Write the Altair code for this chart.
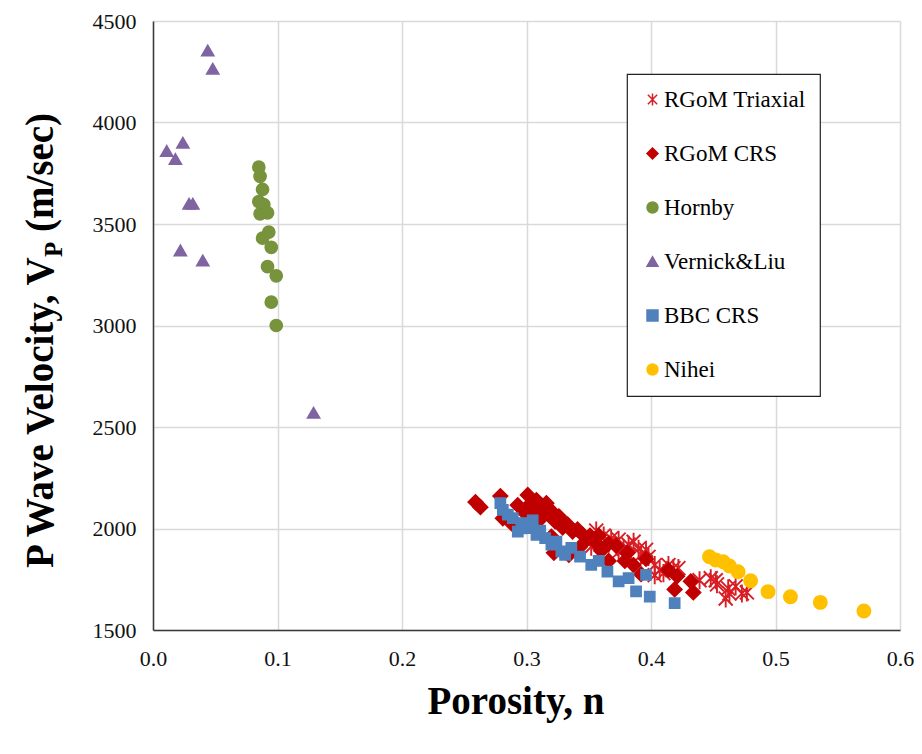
import altair as alt
import pandas as pd

# ---------------- data ----------------
series_names = ["RGoM Triaxial", "RGoM CRS", "Hornby", "Vernick&Liu", "BBC CRS", "Nihei"]
series_colors = ["#D81E24", "#C00000", "#77933C", "#8064A2", "#4F81BD", "#FFC000"]
asterisk_path = "M0,-1.1L0,1.1M-0.85,-0.85L0.85,0.85M-0.85,0.85L0.85,-0.85"
series_shapes = [asterisk_path, "diamond", "circle", "triangle-up", "square", "circle"]
series_sizes = [270, 215, 150, 150, 105, 180]
series_strokes = [1.9, 1.5, 1.5, 1.5, 1.5, 1.5]

triaxial_n = [0.356, 0.352, 0.362, 0.368, 0.374, 0.374, 0.382, 0.382, 0.390, 0.392,
              0.396, 0.403, 0.403, 0.407, 0.414, 0.418, 0.422, 0.439, 0.448, 0.452,
              0.453, 0.460, 0.462, 0.463, 0.468, 0.473, 0.477, 0.386, 0.398, 0.366,
              0.378, 0.410]
triaxial_vp = [1990, 1910, 1965, 1950, 1945, 1885, 1920, 1870, 1900, 1870,
               1895, 1820, 1770, 1795, 1820, 1805, 1805, 1745, 1755, 1745,
               1725, 1655, 1705, 1680, 1715, 1680, 1685, 1935, 1860, 1925,
               1900, 1780]

crs_n = [0.259, 0.263, 0.279, 0.281, 0.288, 0.293, 0.301, 0.303, 0.308, 0.311,
         0.315, 0.318, 0.321, 0.323, 0.327, 0.329, 0.333, 0.337, 0.341, 0.345,
         0.320, 0.322, 0.334, 0.349, 0.355, 0.360, 0.366, 0.372, 0.379, 0.386,
         0.392, 0.396, 0.414, 0.421, 0.419, 0.432, 0.434, 0.351, 0.311, 0.299,
         0.366, 0.343, 0.306, 0.316, 0.326, 0.358, 0.381]
crs_vp = [2130, 2105, 2160, 2050, 2025, 2115, 2165, 2120, 2140, 2090,
          2105, 2070, 2080, 2035, 2045, 2005, 2020, 1985, 1995, 1970,
          1960, 1880, 1870, 1950, 1935, 1890, 1840, 1915, 1840, 1820,
          1775, 1850, 1795, 1765, 1700, 1740, 1685, 1965, 2045, 2075,
          1925, 1910, 2100, 2125, 2060, 1965, 1880]

hornby_n = [0.085, 0.086, 0.088, 0.085, 0.089, 0.086, 0.092, 0.093, 0.088, 0.095,
            0.092, 0.099, 0.095, 0.099]
hornby_vp = [3780, 3735, 3670, 3610, 3595, 3550, 3555, 3460, 3430, 3385,
             3290, 3245, 3115, 3000]

vernick_n = [0.044, 0.048, 0.011, 0.024, 0.018, 0.029, 0.032, 0.022, 0.040, 0.129]
vernick_vp = [4355, 4265, 3860, 3900, 3820, 3600, 3600, 3370, 3320, 2570]

bbc_n = [0.279, 0.281, 0.285, 0.289, 0.293, 0.296, 0.300, 0.303, 0.308, 0.311,
         0.315, 0.320, 0.324, 0.328, 0.331, 0.336, 0.343, 0.352, 0.358, 0.365,
         0.374, 0.382, 0.388, 0.396, 0.399, 0.419, 0.296, 0.305]
bbc_vp = [2125, 2092, 2068, 2051, 1985, 2027, 2010, 2002, 1969, 1990,
          1953, 1920, 1935, 1887, 1870, 1905, 1862, 1821, 1840, 1788,
          1739, 1756, 1690, 1772, 1665, 1632, 2000, 2040]

nihei_n = [0.447, 0.452, 0.458, 0.463, 0.470, 0.480, 0.494, 0.512, 0.536, 0.571]
nihei_vp = [1861, 1845, 1836, 1815, 1787, 1743, 1689, 1664, 1636, 1594]

x_ticks = [0.0, 0.1, 0.2, 0.3, 0.4, 0.5, 0.6]
y_ticks = [1500, 2000, 2500, 3000, 3500, 4000, 4500]

all_series = [
    (triaxial_n, triaxial_vp),
    (crs_n, crs_vp),
    (hornby_n, hornby_vp),
    (vernick_n, vernick_vp),
    (bbc_n, bbc_vp),
    (nihei_n, nihei_vp),
]

FONT = "Liberation Serif"

leg = alt.Legend(labelFont=FONT, labelFontSize=23, labelColor="black", title=None)

xenc = alt.X("n:Q", scale=alt.Scale(domain=[0, 0.6], nice=False, zero=False),
             axis=alt.Axis(values=x_ticks, format=".1f", title=None, labelPadding=18,
                           labelFlush=False))
yenc = alt.Y("vp:Q", scale=alt.Scale(domain=[1500, 4500], nice=False, zero=False),
             axis=alt.Axis(values=y_ticks, format="d", title=None, labelPadding=17,
                           labelFlush=False))
fill_enc = alt.Fill("series:N", scale=alt.Scale(domain=series_names, range=series_colors),
                    legend=leg, title=None)
stroke_enc = alt.Stroke("series:N", scale=alt.Scale(domain=series_names, range=series_colors),
                        legend=leg, title=None)
shape_enc = alt.Shape("series:N", scale=alt.Scale(domain=series_names, range=series_shapes),
                      legend=leg, title=None)

layers = []
for name, (xs, ys), sz, sw in zip(series_names, all_series, series_sizes, series_strokes):
    d = pd.DataFrame({"series": [name] * len(xs), "n": xs, "vp": ys})
    layers.append(
        alt.Chart(d).mark_point(filled=True, strokeWidth=sw, opacity=1, size=sz).encode(
            x=xenc, y=yenc, fill=fill_enc, stroke=stroke_enc, shape=shape_enc
        )
    )

def txt(s, x, y, size, angle=0, align="left"):
    return alt.Chart(pd.DataFrame({"t": [s]})).mark_text(
        angle=angle, align=align, baseline="alphabetic", font=FONT,
        fontWeight="bold", fontSize=size, color="black"
    ).encode(x=alt.value(x), y=alt.value(y), text="t:N")

# y title pieces (rotated), positions relative to plot origin
y_main = txt("P Wave Velocity, V", -100, 547, 39, angle=270)
y_sub = txt("P", -91, 236, 25, angle=270)
y_rest = txt("(m/sec)", -100, 211, 39, angle=270)
x_title = txt("Porosity, n", 363, 693, 39, align="center")

chart = alt.layer(*layers, y_main, y_sub, y_rest, x_title).properties(
    width=747, height=609,
    autosize=alt.AutoSizeParams(type="none"),
    padding={"left": 153, "top": 21, "right": 22, "bottom": 124},
).configure(font=FONT).configure_view(stroke=None).configure_axis(
    gridColor="#D9D9D9", gridWidth=1.5, domainColor="#3A3A3A", domainWidth=1.5,
    ticks=False, labelFont=FONT, labelFontSize=22, labelColor="#111111",
).configure_legend(
    orient="none", legendX=474, legendY=53,
    strokeColor="#222222", strokeWidth=1.2,
    fillColor="white", padding=14, rowPadding=30, labelFont=FONT, labelFontSize=23,
    labelColor="black", symbolSize=120, symbolStrokeWidth=1.5, labelOffset=0,
    labelLimit=400,
)

chart.save("out.html", embed_options={"renderer": "svg", "actions": False})
